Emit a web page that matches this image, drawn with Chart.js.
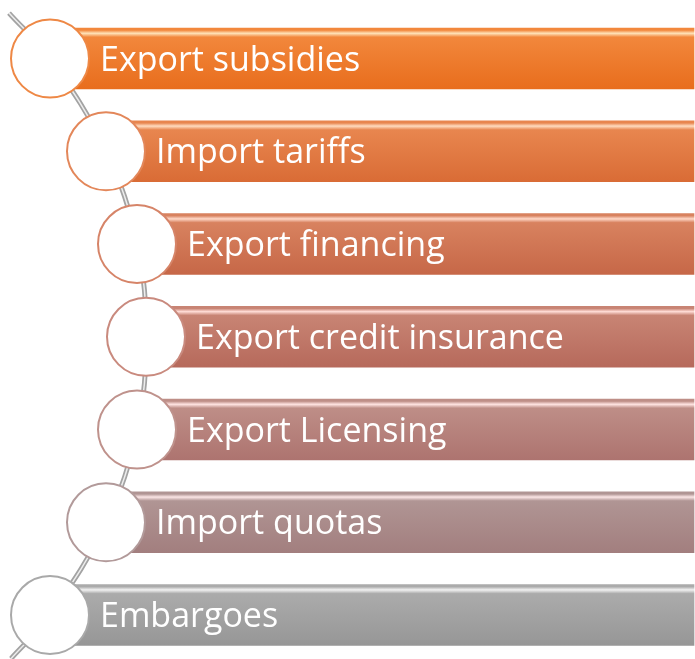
<!DOCTYPE html>
<html>
<head>
<meta charset="utf-8">
<script src="https://cdn.jsdelivr.net/npm/chart.js@4.4.1/dist/chart.umd.min.js"></script>
<style>
  html, body { margin: 0; padding: 0; background: #fff; }
  #wrap { width: 695px; height: 659px; }
</style>
</head>
<body>
<div id="wrap"><canvas id="stepsChart"></canvas></div>
<script>
// Steps, top to bottom
const steps = ['Export subsidies', 'Import tariffs', 'Export financing', 'Export credit insurance', 'Export Licensing', 'Import quotas', 'Embargoes'];
// how far each step is pushed right along the curve (x scale 0-695)
const indent = [50, 106, 137, 146, 137, 106, 50];
const barEnd = 695;
// the curved spine through the circles, plus its two loose ends
const spineX = [9, 50, 106, 137, 146, 137, 106, 50, 11];
const spineY = [-0.49, 0, 1, 2, 3, 4, 5, 6, 6.47];

// bar colours (top / bottom of each gradient) and circle rims
const barTop = ['#F2873C', '#E8864F', '#D8825F', '#C88474', '#BE8E87', '#B09594', '#ABABAB'];
const barBottom = ['#E86D1C', '#D96B35', '#C66747', '#B6695B', '#AD736F', '#A27E7E', '#969696'];
const stripe = ['#FFE2B8', '#FFDCC0', '#FFD8C8', '#FFDCD6', '#FFE4E2', '#FBE6E6', '#F2F2F2'];
const rim = ['#EE8845', '#E3875A', '#D68468', '#C98A7E', '#BF928C', '#B29A9A', '#A9A9A9'];

function barGradient(context) {
    const i = context.dataIndex;
    const chart = context.chart;
    if (i === undefined || !chart.chartArea) return barBottom[0];
    const yc = chart.scales.y.getPixelForValue(i);
    const g = chart.ctx.createLinearGradient(0, yc - 31.5, 0, yc + 31.5);
    g.addColorStop(0, barTop[i]);
    g.addColorStop(0.05, barTop[i]);
    g.addColorStop(0.1, stripe[i]);
    g.addColorStop(0.16, barTop[i]);
    g.addColorStop(1, barBottom[i]);
    return g;
}

// white step labels drawn over the bars
const labelPlugin = {
    id: 'stepLabels',
    afterDatasetsDraw(chart) {
        const c = chart.ctx;
        const xs = chart.scales.x, ys = chart.scales.y;
        c.save();
        c.fillStyle = '#ffffff';
        c.font = '34px "Open Sans", sans-serif';
        c.textBaseline = 'alphabetic';
        steps.forEach((s, i) => {
            const x = xs.getPixelForValue(indent[i]) + 50;
            const y = ys.getPixelForValue(i) + 12;
            c.fillText(s, x, y);
        });
        c.restore();
    }
};

const spine = spineX.map((x, i) => ({ x: x, y: spineY[i] }));

new Chart(document.getElementById('stepsChart'), {
    data: {
        datasets: [
            {
                type: 'scatter',
                order: 0,
                data: indent.map((x, i) => ({ x: x, y: i })),
                pointRadius: 39,
                pointHoverRadius: 39,
                pointBackgroundColor: '#ffffff',
                pointBorderColor: rim,
                pointBorderWidth: 2
            },
            {
                type: 'bar',
                order: 1,
                indexAxis: 'y',
                data: indent.map((x, i) => ({ x: [x, barEnd], y: i })),
                backgroundColor: barGradient,
                borderColor: 'rgba(255, 255, 255, 0.45)',
                borderWidth: 1,
                borderSkipped: false,
                barThickness: 63
            },
            {
                type: 'line',
                order: 2,
                data: spine,
                borderColor: '#EDEDED',
                borderWidth: 1.5,
                tension: 0.4,
                pointRadius: 0
            },
            {
                type: 'line',
                order: 3,
                data: spine,
                borderColor: '#A3A3A3',
                borderWidth: 5,
                tension: 0.4,
                pointRadius: 0
            }
        ]
    },
    options: {
        responsive: true,
        maintainAspectRatio: false,
        animation: false,
        layout: { padding: 0, autoPadding: false },
        plugins: {
            legend: { display: false },
            tooltip: { enabled: false }
        },
        scales: {
            x: { type: 'linear', min: 0, max: 695, offset: false, display: false },
            y: { type: 'linear', min: -0.631, max: 6.474, reverse: true, offset: false, display: false }
        }
    },
    plugins: [labelPlugin]
});
</script>
</body>
</html>
